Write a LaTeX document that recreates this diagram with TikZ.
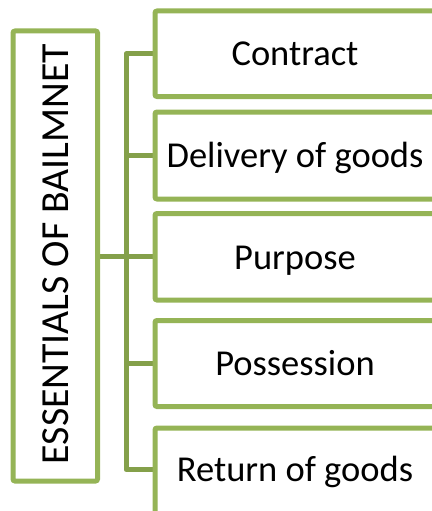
\documentclass[tikz,border=0pt]{standalone}
\usepackage{fontspec}
\setmainfont{Carlito}
\definecolor{boxgreen}{HTML}{95B456}
\definecolor{linkgreen}{HTML}{84A04A}
\begin{document}
\begin{tikzpicture}[x=1pt,y=-1pt,
  framebox/.style={draw=boxgreen,line width=5pt,rounded corners=2pt,fill=white},
  link/.style={draw=linkgreen,line width=5pt},
  lbl/.style={font=\fontsize{36.5}{40}\selectfont,anchor=base,inner sep=0pt}]
\useasboundingbox (0,0) rectangle (431,511);
% connectors
\coordinate (jt) at (126,54);
\coordinate (jb) at (126,469.5);
\draw[link] (97,256.5) -- (155,256.5);
\draw[link,line join=round] (155,54) -- (jt) -- (jb) -- (155,469.5);
\draw[link] (126,155.5) -- (155,155.5);
\draw[link] (126,363.5) -- (155,363.5);
% left box
\draw[framebox] (13,31) rectangle (97.5,481);
\node[lbl,rotate=90,anchor=base,font=\fontsize{39.8}{44}\selectfont] (main) at (68,254) {ESSENTIALS OF BAILMNET};
% right boxes
\draw[framebox] (155,11) rectangle (437,96.5);
\node[lbl] (b1) at (295,66) {Contract};
\draw[framebox] (155,112) rectangle (437,199);
\node[lbl] (b2) at (295,167.5) {Delivery of goods};
\draw[framebox] (155,213.5) rectangle (437,300);
\node[lbl] (b3) at (295,269) {Purpose};
\draw[framebox] (155,320.5) rectangle (437,406.5);
\node[lbl] (b4) at (295,375.5) {Possession};
\draw[framebox] (155,428) rectangle (437,514);
\node[lbl] (b5) at (295,481) {Return of goods};
\end{tikzpicture}
\end{document}
